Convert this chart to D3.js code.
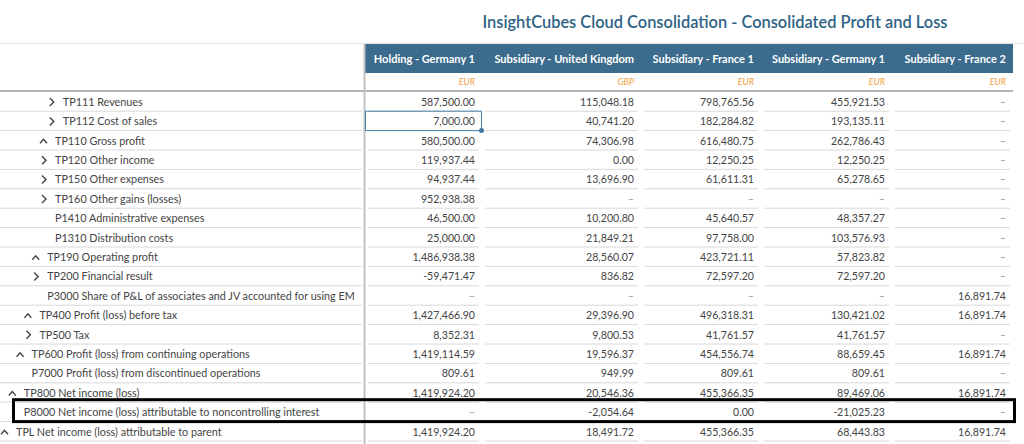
<!DOCTYPE html>
<html><head><meta charset="utf-8">
<script src="https://cdn.jsdelivr.net/npm/d3@7"></script>
<style>body{margin:0;background:#fff;} svg{display:block;font-family:Lato, "Open Sans", sans-serif;}</style>
</head><body><svg id="c" width="1024" height="444"></svg>
<script>
const title = "InsightCubes Cloud Consolidation - Consolidated Profit and Loss";
const columns = ["Holding - Germany 1","Subsidiary - United Kingdom","Subsidiary - France 1","Subsidiary - Germany 1","Subsidiary - France 2"];
const currencies = ["EUR","GBP","EUR","EUR","EUR"];
const rowLabels = [
  "TP111 Revenues","TP112 Cost of sales","TP110 Gross profit","TP120 Other income","TP150 Other expenses",
  "TP160 Other gains (losses)","P1410 Administrative expenses","P1310 Distribution costs","TP190 Operating profit",
  "TP200 Financial result","P3000 Share of P&L of associates and JV accounted for using EM","TP400 Profit (loss) before tax",
  "TP500 Tax","TP600 Profit (loss) from continuing operations","P7000 Profit (loss) from discontinued operations",
  "TP800 Net income (loss)","P8000 Net income (loss) attributable to noncontrolling interest","TPL Net income (loss) attributable to parent"];
const rowLevels = [6,6,5,5,5,5,5,5,4,4,4,3,3,2,2,1,1,0];
const rowIcons = [">",">","^",">",">",">","","","^",">","","^",">","^","","^","","^"];
const holdingGermany1 = [587500.00,7000.00,580500.00,119937.44,94937.44,952938.38,46500.00,25000.00,1486938.38,-59471.47,null,1427466.90,8352.31,1419114.59,809.61,1419924.20,null,1419924.20];
const subsidiaryUnitedKingdom = [115048.18,40741.20,74306.98,0.00,13696.90,null,10200.80,21849.21,28560.07,836.82,null,29396.90,9800.53,19596.37,949.99,20546.36,-2054.64,18491.72];
const subsidiaryFrance1 = [798765.56,182284.82,616480.75,12250.25,61611.31,null,45640.57,97758.00,423721.11,72597.20,null,496318.31,41761.57,454556.74,809.61,455366.35,0.00,455366.35];
const subsidiaryGermany1 = [455921.53,193135.11,262786.43,12250.25,65278.65,null,48357.27,103576.93,57823.82,72597.20,null,130421.02,41761.57,88659.45,809.61,89469.06,-21025.23,68443.83];
const subsidiaryFrance2 = [null,null,null,null,null,null,null,null,null,null,16891.74,16891.74,null,16891.74,null,16891.74,null,16891.74];
const seriesValues = [holdingGermany1, subsidiaryUnitedKingdom, subsidiaryFrance1, subsidiaryGermany1, subsidiaryFrance2];
const selectedRow = 1, selectedCol = 0, highlightedRow = 16;

const svg = d3.select("#c");
const W = 1024;
const colEdges = [365, 482, 641, 761, 892, 1013];
const x0 = d3.scaleOrdinal().domain(d3.range(columns.length)).range(colEdges.slice(0, -1));
const x1 = d3.scaleOrdinal().domain(d3.range(columns.length)).range(colEdges.slice(1));
const y = d3.scaleBand().domain(d3.range(rowLabels.length)).range([92.3, 92.3 + 19.4 * rowLabels.length]);
const indent = d3.scaleLinear().domain([0, 6]).range([16, 62.8]);
const loc = d3.formatLocale({decimal: ".", thousands: ",", grouping: [3], currency: ["", ""], minus: "-"});
const fmt = loc.format(",.2f");

const textCol = "#444", lineCol = "#d8d8d8", headBg = "#3b6b8d";

// title
svg.append("text").attr("x", 715).attr("y", 22).attr("dy", "0.35em").attr("text-anchor", "middle")
  .attr("fill", "#2e6385").attr("font-size", 16.4).attr("font-weight", 600).text(title);

// top line
svg.append("line").attr("x1", 0).attr("x2", W).attr("y1", 43.5).attr("y2", 43.5).attr("stroke", "#e2e2e2");

// header band
svg.append("rect").attr("x", colEdges[0]).attr("y", 44).attr("width", colEdges[colEdges.length - 1] - colEdges[0]).attr("height", 29).attr("fill", headBg);
svg.selectAll("text.hdr").data(columns).join("text").attr("class", "hdr")
  .attr("x", (d, i) => x1(i) - 7).attr("y", 59).attr("dy", "0.35em").attr("text-anchor", "end")
  .attr("fill", "#fff").attr("font-size", 11).attr("font-weight", 700).text(d => d);
svg.selectAll("text.cur").data(currencies).join("text").attr("class", "cur")
  .attr("x", (d, i) => x1(i) - 7).attr("y", 82).attr("dy", "0.35em").attr("text-anchor", "end")
  .attr("fill", "#f0a03e").attr("font-size", 9).attr("font-style", "italic").text(d => d);

// row separators
const rows = d3.range(rowLabels.length);
svg.selectAll("line.lsep").data(rows).join("line").attr("class", "lsep")
  .attr("x1", 0).attr("x2", 362).attr("y1", d => y(d) + y.bandwidth() - 0.5).attr("y2", d => y(d) + y.bandwidth() - 0.5)
  .attr("stroke", lineCol);
const cells = [];
seriesValues.forEach((arr, c) => arr.forEach((v, r) => cells.push({c, r, v})));
svg.selectAll("line.csep").data(cells).join("line").attr("class", "csep")
  .attr("x1", d => x0(d.c) + 3).attr("x2", d => x1(d.c) - 3)
  .attr("y1", d => y(d.r) + y.bandwidth() - 0.5).attr("y2", d => y(d.r) + y.bandwidth() - 0.5)
  .attr("stroke", lineCol);

// thick line under currency row
svg.append("line").attr("x1", 0).attr("x2", colEdges[colEdges.length - 1]).attr("y1", 91).attr("y2", 91).attr("stroke", "#b4b4b4").attr("stroke-width", 2);
// vertical separator
svg.append("line").attr("x1", 364.5).attr("x2", 364.5).attr("y1", 44).attr("y2", 444).attr("stroke", "#c2c2c2").attr("stroke-width", 2);

// labels
svg.selectAll("text.lbl").data(rows).join("text").attr("class", "lbl")
  .attr("x", d => indent(rowLevels[d])).attr("y", d => y(d) + y.bandwidth() / 2).attr("dy", "0.35em")
  .attr("fill", textCol).attr("font-size", 10.8).text(d => rowLabels[d]);
// icons
svg.selectAll("path.ico").data(rows.filter(r => rowIcons[r])).join("path").attr("class", "ico")
  .attr("d", d => {
    const tx = indent(rowLevels[d]), cy = y(d) + y.bandwidth() / 2;
    if (rowIcons[d] === ">") return `M${tx - 13},${cy - 4} L${tx - 9},${cy} L${tx - 13},${cy + 4}`;
    return `M${tx - 15},${cy + 2.5} L${tx - 11.5},${cy - 1.5} L${tx - 8},${cy + 2.5}`;
  })
  .attr("fill", "none").attr("stroke", "#444").attr("stroke-width", 1.4);

// values
svg.selectAll("text.val").data(cells).join("text").attr("class", "val")
  .attr("x", d => x1(d.c) - 7).attr("y", d => y(d.r) + y.bandwidth() / 2).attr("dy", "0.35em")
  .attr("text-anchor", "end").attr("fill", d => d.v == null ? "#999" : textCol).attr("font-size", 10.6)
  .text(d => d.v == null ? "–" : fmt(d.v));

// selected cell
svg.append("rect").attr("x", x0(selectedCol) + 0.5).attr("y", y(selectedRow) - 0.5)
  .attr("width", x1(selectedCol) - 1 - x0(selectedCol)).attr("height", y.bandwidth())
  .attr("fill", "none").attr("stroke", "#4a7fa6").attr("stroke-width", 1);
svg.append("circle").attr("cx", x1(selectedCol) - 0.5).attr("cy", y(selectedRow) + y.bandwidth() - 0.5).attr("r", 2.5).attr("fill", "#3f78a3");

// highlight box
svg.append("rect").attr("x", 13.5).attr("y", y(highlightedRow) - 3).attr("width", 1001)
  .attr("height", y.bandwidth() + 2.5).attr("fill", "none").attr("stroke", "#000").attr("stroke-width", 3);
</script></body></html>
